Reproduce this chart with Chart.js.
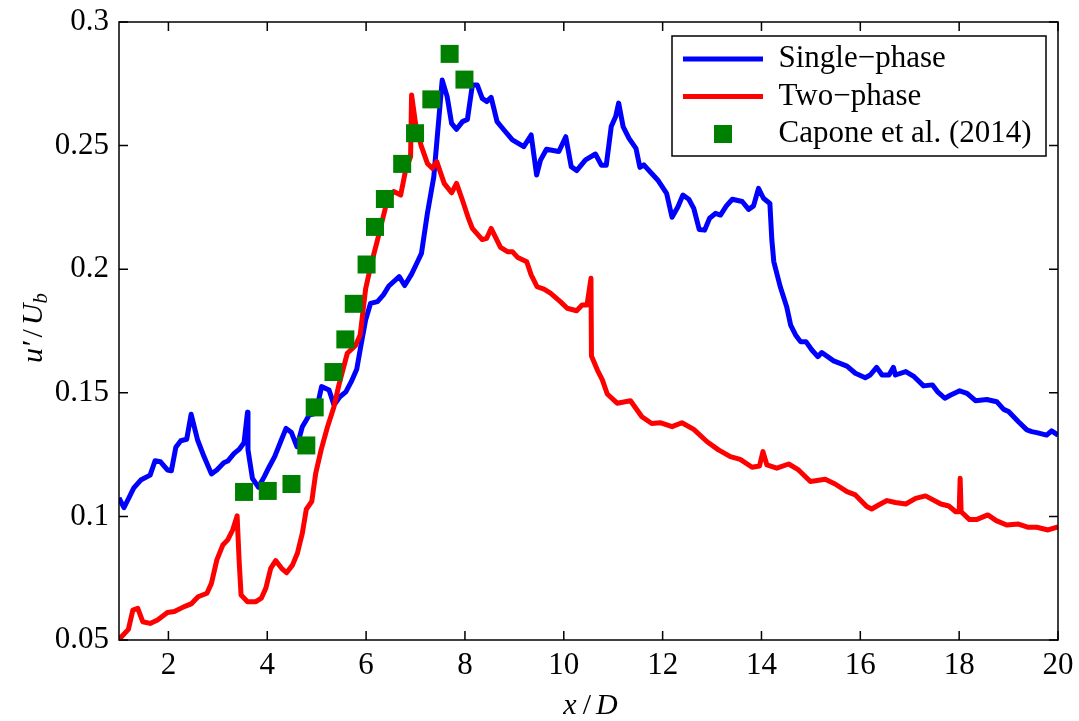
<!DOCTYPE html>
<html><head><meta charset="utf-8">
<script src="https://cdn.jsdelivr.net/npm/chart.js@4"></script>
<style>html,body{margin:0;padding:0;background:#fff;}canvas{display:block;}</style>
</head><body>
<canvas id="c" width="1079" height="721"></canvas>
<script>
// ---- data ----
const singleX = [1.0,1.1,1.3,1.44,1.63,1.73,1.84,1.98,2.06,2.15,2.25,2.37,2.46,2.59,2.72,2.87,2.98,3.12,3.2,3.33,3.43,3.53,3.6,3.61,3.7,3.82,3.94,4.04,4.15,4.27,4.38,4.49,4.6,4.71,4.85,4.98,5.1,5.25,5.35,5.47,5.59,5.7,5.81,5.89,5.99,6.09,6.23,6.35,6.46,6.67,6.78,6.92,7.04,7.12,7.24,7.37,7.44,7.54,7.64,7.73,7.83,7.95,8.05,8.15,8.25,8.35,8.44,8.53,8.65,8.79,8.96,9.19,9.34,9.45,9.53,9.65,9.9,10.04,10.15,10.26,10.44,10.64,10.76,10.86,10.96,11.05,11.11,11.2,11.32,11.46,11.54,11.62,11.76,11.9,12.08,12.19,12.31,12.41,12.53,12.63,12.74,12.85,12.95,13.07,13.17,13.29,13.41,13.61,13.74,13.84,13.94,14.04,14.17,14.21,14.25,14.38,14.51,14.59,14.69,14.79,14.9,15.02,15.14,15.22,15.46,15.73,15.9,16.1,16.2,16.33,16.44,16.58,16.67,16.71,16.92,17.09,17.28,17.46,17.56,17.71,17.83,18.01,18.16,18.33,18.56,18.76,18.9,19.0,19.2,19.37,19.47,19.57,19.77,19.87,20.0];
const singleY = [0.1075,0.1035,0.1115,0.1147,0.1167,0.1225,0.1221,0.1188,0.1185,0.128,0.1306,0.1312,0.1413,0.1309,0.1242,0.1172,0.1188,0.1217,0.1224,0.1255,0.1271,0.1298,0.1421,0.1269,0.1154,0.1118,0.1161,0.1201,0.1242,0.1302,0.1356,0.1339,0.1282,0.1363,0.141,0.1417,0.1525,0.1511,0.1451,0.1484,0.1504,0.1545,0.1595,0.1686,0.1794,0.1862,0.1869,0.1896,0.1932,0.197,0.1934,0.198,0.203,0.2064,0.2226,0.2374,0.2536,0.2765,0.2698,0.259,0.2566,0.2597,0.2606,0.2745,0.2745,0.2691,0.2678,0.2695,0.2597,0.2563,0.2523,0.2496,0.2543,0.2381,0.2442,0.2485,0.2476,0.2536,0.2415,0.2399,0.2442,0.2466,0.2421,0.2421,0.2577,0.2618,0.2672,0.2577,0.2529,0.2489,0.2412,0.2422,0.2391,0.2361,0.2307,0.221,0.2253,0.23,0.2283,0.2246,0.2161,0.2158,0.2206,0.2226,0.2219,0.2256,0.2283,0.2274,0.2242,0.2256,0.2327,0.2287,0.2266,0.2118,0.203,0.1929,0.1848,0.1774,0.1734,0.1707,0.1707,0.1673,0.1646,0.1663,0.1629,0.1608,0.1579,0.1561,0.1572,0.1603,0.1572,0.1572,0.1603,0.1572,0.1586,0.1565,0.1528,0.1532,0.1505,0.1478,0.1491,0.1508,0.1498,0.1468,0.1473,0.1464,0.1433,0.1424,0.1383,0.135,0.1343,0.1339,0.1329,0.1346,0.1329];

const twoX = [1.0,1.05,1.19,1.28,1.38,1.48,1.63,1.78,1.98,2.12,2.32,2.46,2.6,2.78,2.87,2.98,3.1,3.2,3.3,3.39,3.43,3.47,3.6,3.77,3.88,3.97,4.07,4.17,4.29,4.39,4.51,4.61,4.71,4.79,4.9,4.98,5.09,5.22,5.35,5.45,5.62,5.79,5.88,5.99,6.09,6.23,6.33,6.43,6.56,6.7,6.8,6.9,6.92,7.0,7.11,7.24,7.34,7.43,7.58,7.73,7.83,7.95,8.06,8.15,8.35,8.44,8.53,8.72,8.86,8.96,9.07,9.25,9.34,9.46,9.6,9.73,9.93,10.07,10.26,10.37,10.47,10.55,10.56,10.68,10.78,10.88,11.08,11.35,11.58,11.78,11.95,12.19,12.39,12.63,12.9,13.13,13.37,13.57,13.81,13.96,14.03,14.11,14.31,14.55,14.75,14.99,15.29,15.49,15.73,15.9,16.13,16.23,16.37,16.54,16.71,16.92,17.12,17.32,17.63,17.79,17.93,18.0,18.02,18.04,18.21,18.35,18.58,18.75,18.96,19.2,19.4,19.57,19.8,20.0];
const twoY = [0.0505,0.0513,0.0543,0.0621,0.0628,0.0574,0.0567,0.0581,0.0611,0.0615,0.0635,0.0646,0.0675,0.0689,0.0729,0.0824,0.0884,0.0905,0.0945,0.1002,0.0824,0.0682,0.0655,0.0655,0.0669,0.0709,0.079,0.0821,0.079,0.0772,0.0803,0.0851,0.0932,0.1029,0.106,0.1174,0.1269,0.1363,0.1444,0.1532,0.166,0.1693,0.1734,0.192,0.201,0.2118,0.2199,0.228,0.2314,0.23,0.2401,0.2455,0.2705,0.259,0.2502,0.2428,0.2408,0.2435,0.2347,0.2309,0.2347,0.2279,0.2212,0.2165,0.212,0.2125,0.2165,0.2088,0.2071,0.2071,0.2047,0.203,0.1977,0.1929,0.1919,0.1903,0.1869,0.1842,0.1832,0.1855,0.1855,0.1963,0.1649,0.1592,0.1552,0.1495,0.1458,0.1468,0.1403,0.1376,0.1379,0.1363,0.1379,0.1352,0.1302,0.1269,0.1242,0.1231,0.1199,0.1204,0.1262,0.1208,0.1195,0.1212,0.1188,0.1141,0.115,0.1131,0.11,0.1087,0.104,0.103,0.1046,0.1064,0.1056,0.105,0.1073,0.1083,0.105,0.1042,0.1019,0.1019,0.1154,0.1019,0.0987,0.0987,0.1006,0.0983,0.0965,0.0969,0.0956,0.0956,0.0945,0.0958];

const caponeX = [3.53,4.01,4.49,4.79,4.96,5.34,5.58,5.75,6.01,6.18,6.38,6.73,6.99,7.32,7.69,7.99];
const caponeY = [0.1099,0.1103,0.1131,0.1287,0.1441,0.1584,0.1716,0.186,0.2019,0.2171,0.2284,0.2426,0.255,0.2687,0.2871,0.2767];

const seriesNames = ['Single\u2212phase', 'Two\u2212phase', 'Capone et al. (2014)'];
const xTicks = [2,4,6,8,10,12,14,16,18,20];
const yTicks = [0.05,0.1,0.15,0.2,0.25,0.3];
const yTickLabels = ['0.05','0.1','0.15','0.2','0.25','0.3'];
const xTitleParts = ['x', '/', 'D'];
const yTitleParts = ['u\u2032', '/', 'U', 'b'];

// ---- rendering ----
const FONT = 'Liberation Serif';
Chart.defaults.font.family = FONT;
Chart.defaults.font.size = 31;
Chart.defaults.color = '#000';

const pts = (xs, ys) => xs.map((x, i) => ({x: x, y: ys[i]}));

const sq = document.createElement('canvas');
sq.width = 18; sq.height = 18;
(function(){ const g = sq.getContext('2d'); g.fillStyle = '#008000'; g.fillRect(0,0,18,18); })();

const LEG = {x: 672, y: 36, w: 374, h: 120};

function drawParts(ctx, parts, x0) {
  parts.forEach(p => {
    ctx.font = p.f;
    ctx.fillText(p.t, x0 + (p.gap || 0), p.dy || 0);
    x0 += (p.gap || 0) + ctx.measureText(p.t).width;
  });
}
function partsWidth(ctx, parts) {
  let w = 0;
  parts.forEach(p => { ctx.font = p.f; w += (p.gap || 0) + ctx.measureText(p.t).width; });
  return w;
}

const framePlugin = {
  id: 'frame',
  afterLayout(chart) {
    const lg = chart.legend;
    if (lg) { lg.left = 676.5; lg.top = 37; }
  },
  afterDraw(chart) {
    const {ctx, chartArea: a, scales} = chart;
    ctx.save();
    ctx.strokeStyle = '#000';
    ctx.lineWidth = 1.5;
    ctx.strokeRect(a.left, a.top, a.right - a.left, a.bottom - a.top);
    const tl = 9;
    ctx.beginPath();
    xTicks.forEach(v => {
      const px = scales.x.getPixelForValue(v);
      ctx.moveTo(px, a.bottom); ctx.lineTo(px, a.bottom - tl);
      ctx.moveTo(px, a.top); ctx.lineTo(px, a.top + tl);
    });
    yTicks.forEach(v => {
      const py = scales.y.getPixelForValue(v);
      ctx.moveTo(a.left, py); ctx.lineTo(a.left + tl, py);
      ctx.moveTo(a.right, py); ctx.lineTo(a.right - tl, py);
    });
    ctx.stroke();
    // legend frame
    ctx.strokeRect(LEG.x, LEG.y, LEG.w, LEG.h);
    ctx.fillStyle = '#000';
    ctx.textBaseline = 'alphabetic';
    ctx.textAlign = 'left';
    const it = 'italic 30px "' + FONT + '"';
    const up = '30px "' + FONT + '"';
    // x-axis title
    const xp = [
      {t: xTitleParts[0], f: it},
      {t: xTitleParts[1], f: up, gap: 6},
      {t: xTitleParts[2], f: it, gap: 5}
    ];
    ctx.save();
    ctx.translate((a.left + a.right) / 2 + 2, 714);
    drawParts(ctx, xp, -partsWidth(ctx, xp) / 2);
    ctx.restore();
    // y-axis title with subscript
    const yp = [
      {t: yTitleParts[0], f: it},
      {t: yTitleParts[1], f: up, gap: 4},
      {t: yTitleParts[2], f: it, gap: 4},
      {t: yTitleParts[3], f: 'italic 21px "' + FONT + '"', dy: 5, gap: 0}
    ];
    ctx.save();
    ctx.translate(41.5, (a.top + a.bottom) / 2 - 3);
    ctx.rotate(-Math.PI / 2);
    drawParts(ctx, yp, -partsWidth(ctx, yp) / 2);
    ctx.restore();
    ctx.restore();
  }
};

new Chart(document.getElementById('c'), {
  type: 'scatter',
  data: {
    datasets: [
      {label: seriesNames[0], data: pts(singleX, singleY), showLine: true, borderColor: '#0000ff', backgroundColor: '#0000ff', borderWidth: 5, pointRadius: 0, tension: 0, borderJoinStyle: 'round', order: 2},
      {label: seriesNames[1], data: pts(twoX, twoY), showLine: true, borderColor: '#ff0000', backgroundColor: '#ff0000', borderWidth: 5, pointRadius: 0, tension: 0, borderJoinStyle: 'round', order: 1},
      {label: seriesNames[2], data: pts(caponeX, caponeY), showLine: false, pointStyle: 'rect', pointRadius: 12.73, pointBorderWidth: 0, borderWidth: 0, backgroundColor: '#008000', borderColor: '#008000', order: 0}
    ]
  },
  options: {
    responsive: false,
    animation: false,
    devicePixelRatio: 1,
    layout: {padding: {left: 0, right: 21, top: 22, bottom: 0}},
    plugins: {
      tooltip: {enabled: false},
      legend: {
        position: 'chartArea',
        align: 'start',
        labels: {
          usePointStyle: true,
          pointStyleWidth: 80,
          padding: 6.5,
          font: {size: 31, family: FONT},
          color: '#000',
          generateLabels(chart) {
            const items = Chart.defaults.plugins.legend.labels.generateLabels(chart);
            items.sort((a, b) => a.datasetIndex - b.datasetIndex);
            items.forEach(it => {
              if (it.datasetIndex < 2) { it.pointStyle = 'line'; it.lineWidth = 5; it.lineCap = 'butt'; }
              else { it.pointStyle = sq; }
            });
            return items;
          }
        }
      }
    },
    scales: {
      x: {
        type: 'linear', min: 1, max: 20,
        afterBuildTicks(s) { s.ticks = xTicks.map(v => ({value: v})); },
        afterFit(s) { s.height = 81; s.paddingLeft = 0; s.paddingRight = 0; },
        grid: {display: false, drawTicks: false},
        border: {display: false},
        ticks: {padding: 7, font: {size: 31, family: FONT}, color: '#000', maxRotation: 0, callback: v => String(v)},
        title: {display: false}
      },
      y: {
        type: 'linear', min: 0.05, max: 0.3,
        afterBuildTicks(s) { s.ticks = yTicks.map(v => ({value: v})); },
        afterFit(s) { s.width = 119; s.paddingTop = 0; s.paddingBottom = 0; },
        grid: {display: false, drawTicks: false},
        border: {display: false},
        ticks: {padding: 10, font: {size: 31, family: FONT}, color: '#000', callback: (v) => { const i = yTicks.findIndex(t => Math.abs(t - v) < 1e-9); return i >= 0 ? yTickLabels[i] : ''; }}
      }
    }
  },
  plugins: [framePlugin]
});
</script>
</body></html>
